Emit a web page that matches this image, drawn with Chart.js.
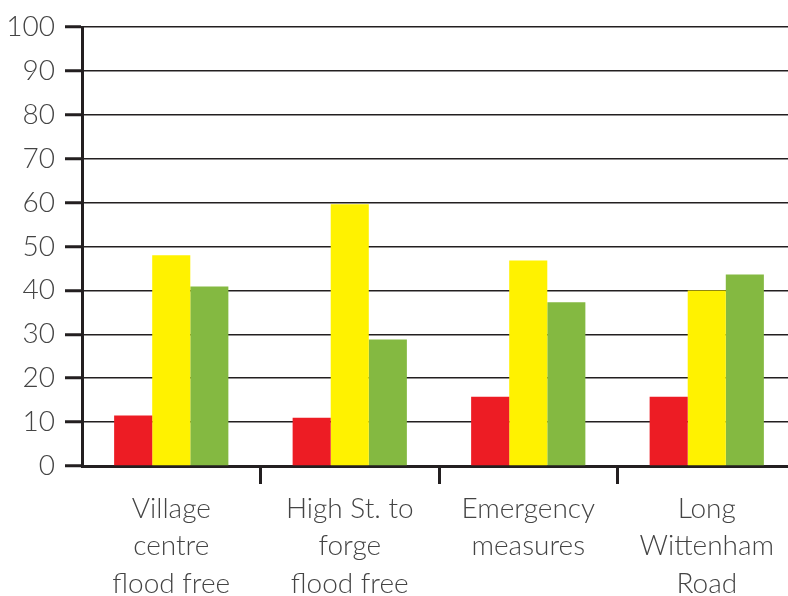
<!DOCTYPE html>
<html>
<head>
<meta charset="utf-8">
<script src="https://cdn.jsdelivr.net/npm/chart.js@4.4.1/dist/chart.umd.min.js"></script>
<style>
  html, body { margin: 0; padding: 0; background: #fff; overflow: hidden; }
  /* the plot runs a little past the right edge in the original, so the canvas is wider than the frame */
  #wrap { width: 788px; height: 596px; overflow: hidden; }
  #chart { display: block; }
</style>
</head>
<body>
<div id="wrap"><canvas id="chart" width="796" height="596"></canvas></div>
<script>
// categories (multi-line labels)
const categories = [
    ['Village', 'centre', 'flood free'],
    ['High St. to', 'forge', 'flood free'],
    ['Emergency', 'measures'],
    ['Long', 'Wittenham', 'Road']
];
const redValues = [11.5, 11, 15.8, 15.8];
const yellowValues = [48, 59.6, 46.8, 40];
const greenValues = [40.9, 28.8, 37.3, 43.6];
const yTicks = [0, 10, 20, 30, 40, 50, 60, 70, 80, 90, 100];

const ink = '#231f20';
const textGrey = '#444444';
const font = { family: 'Lato, "Open Sans", sans-serif', size: 28, weight: '300' };

const ctx = document.getElementById('chart').getContext('2d');
new Chart(ctx, {
    type: 'bar',
    data: {
        labels: categories,
        datasets: [
            { data: redValues, backgroundColor: '#ed1c24' },
            { data: yellowValues, backgroundColor: '#fff200' },
            { data: greenValues, backgroundColor: '#84b941' }
        ]
    },
    options: {
        responsive: false,
        animation: false,
        layout: { padding: { top: 27, right: 0, left: 0, bottom: 0 } },
        datasets: {
            bar: { categoryPercentage: 0.64, barPercentage: 1.0, borderWidth: 0 }
        },
        plugins: {
            legend: { display: false },
            tooltip: { enabled: false }
        },
        scales: {
            x: {
                offset: true,
                border: { color: ink, width: 3 },
                grid: {
                    offset: true,
                    drawOnChartArea: false,
                    drawTicks: true,
                    tickLength: 18,
                    tickWidth: 3,
                    // only the inner category dividers get a tick
                    tickColor: (c) => (c.index === 0 || c.index === categories.length) ? 'rgba(0,0,0,0)' : ink
                },
                ticks: {
                    color: textGrey,
                    font: { ...font, lineHeight: 1.34 },
                    padding: 6,
                    maxRotation: 0,
                    autoSkip: false
                },
                afterFit: (scale) => { scale.height = 130; }
            },
            y: {
                min: 0,
                max: 100,
                afterBuildTicks: (scale) => { scale.ticks = yTicks.map(v => ({ value: v })); },
                border: { color: ink, width: 3 },
                grid: {
                    color: ink,
                    lineWidth: 1.5,
                    tickLength: 17,
                    tickWidth: 3,
                    tickColor: ink
                },
                ticks: {
                    color: textGrey,
                    font: font,
                    padding: 10
                },
                afterFit: (scale) => { scale.width = 82; }
            }
        }
    }
});
</script>
</body>
</html>
